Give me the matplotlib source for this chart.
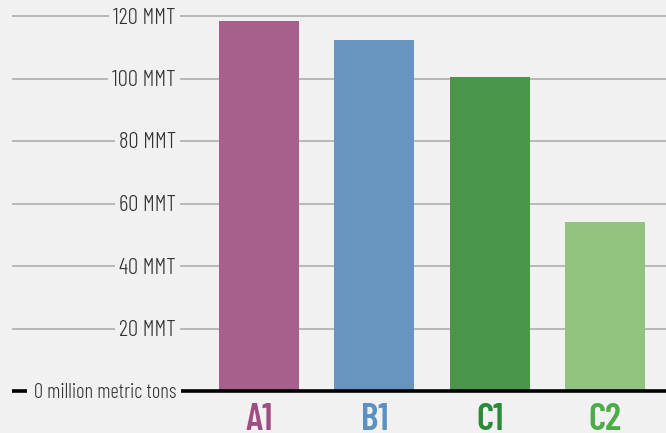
import matplotlib
matplotlib.use("Agg")
import matplotlib.pyplot as plt

# data
categories = ["A1", "B1", "C1", "C2"]
values = [118.4, 112.3, 100.5, 54.1]
bar_colors = ["#a6608b", "#6795bf", "#4c964c", "#92c480"]
label_colors = ["#9e4f82", "#5b90c0", "#2b8b3b", "#4dab4a"]
tick_values = [20, 40, 60, 80, 100, 120]
tick_labels = ["20 MMT", "40 MMT", "60 MMT", "80 MMT", "100 MMT", "120 MMT"]
zero_label = "0 million metric tons"

bg = "#f1f1f1"
font = ["Barlow Condensed", "DejaVu Sans"]

W, H = 666, 433
fig = plt.figure(figsize=(W / 100, H / 100), dpi=100, facecolor=bg)
ax = fig.add_axes([0, 0, 1, 1], facecolor=bg)

# pixel layout: bar centres at 259 + 115.33*i, 0 at y=391, 120 at y=16
step = 115.33
x0 = 259
def px_to_x(p):
    return (p - x0) / step

ppu = (391 - 16) / 120.0  # pixels per unit
ax.set_xlim(px_to_x(0), px_to_x(W))
ax.set_ylim(-(H - 391) / ppu, 391 / ppu)
ax.axis("off")

xs = list(range(len(categories)))
ax.bar(xs, values, width=80 / step, color=bar_colors, zorder=3)

# gridlines with labels sitting on them (text a touch below the line)
dy = 2 / ppu
for v, lab in zip(tick_values, tick_labels):
    ax.hlines(v, px_to_x(12), px_to_x(W), color="#b4b4b4", lw=1.3, zorder=1)
    ax.text(px_to_x(176), v - dy, lab, ha="right", va="center", fontsize=16.5,
            family=font, fontweight=300, color="#333333", zorder=2,
            bbox=dict(facecolor=bg, edgecolor="none", pad=3))

# baseline: short tick on the left, then the axis line after the label
ax.hlines(0, px_to_x(12), px_to_x(27), color="black", lw=2.6, zorder=4)
ax.hlines(0, px_to_x(181), px_to_x(W), color="black", lw=2.6, zorder=4)
ax.text(px_to_x(176), -dy, zero_label, ha="right", va="center", fontsize=14.8,
        family=font, fontweight=300, color="#333333", zorder=5)

# category labels
for x, c, col in zip(xs, categories, label_colors):
    ax.text(x, -(403 - 391) / ppu, c, ha="center", va="top", fontsize=27,
            family=font, fontweight=600, color=col)

fig.savefig("out.png", dpi=100, facecolor=bg)
